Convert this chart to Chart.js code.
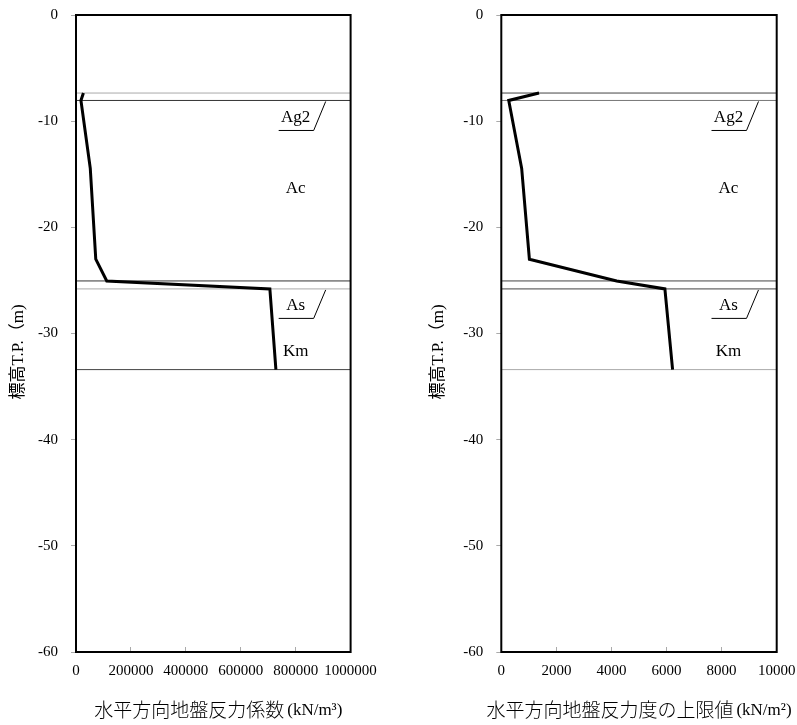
<!DOCTYPE html>
<html>
<head>
<meta charset="utf-8">
<script src="https://cdn.jsdelivr.net/npm/chart.js@4/dist/chart.umd.min.js"></script>
<style>
  html, body { margin: 0; padding: 0; background: #fff; }
  #wrap { position: relative; width: 797px; height: 725px; }
  #c1 { position: absolute; left: 0; top: 0; }
  #c2 { position: absolute; left: 420px; top: 0; }
</style>
</head>
<body>
<div id="wrap">
  <canvas id="c1" width="398" height="725"></canvas>
  <canvas id="c2" width="377" height="725"></canvas>
</div>
<script>
// ---- data ----
const depths = [-7.35, -8.05, -14.45, -23.0, -25.05, -25.8, -33.4];          // 標高 T.P. (m)
const kValues = [27000, 18000, 52000, 72000, 112000, 706000, 728000];        // 水平方向地盤反力係数 (kN/m3)
const pValues = [1370, 270, 740, 1020, 4190, 5940, 6220];                    // 水平方向地盤反力度の上限値 (kN/m2)
const layerBounds = [-7.35, -8.05, -25.05, -25.8, -33.4];                    // 地層境界
const layerNames = ["Ag2", "Ac", "As", "Km"];
const layerLabelDepths = [-9.7, -16.3, -27.4, -31.7];
const layerLeaderTop = [-8.05, null, -25.8, null];
const yTicks = [0, -10, -20, -30, -40, -50, -60];
const xTicksLeft = [0, 200000, 400000, 600000, 800000, 1000000];
const xTicksRight = [0, 2000, 4000, 6000, 8000, 10000];
const yTitle = "標高T.P.（m)";
const xTitleLeft = ["水平方向地盤反力係数", "(kN/m³)"];
const xTitleRight = ["水平方向地盤反力度の上限値", "(kN/m²)"];

const SERIF = '"Liberation Serif", "Times New Roman", "Noto Sans CJK JP", serif';
const CJK = '"Noto Sans CJK JP", "Noto Sans CJK SC", sans-serif';

function makeChart(canvasId, values, xTicks, xTitle, labelX, boundColors, padRight, yAxisWidth, xTitleShift) {
  const xmin = xTicks[0], xmax = xTicks[xTicks.length - 1];
  const datasets = [];
  datasets.push({
    data: depths.map((d, i) => ({ x: values[i], y: d })),
    showLine: true, borderColor: '#000', borderWidth: 3, pointRadius: 0,
    borderJoinStyle: 'miter', order: 0
  });
  layerBounds.forEach((d, i) => {
    datasets.push({
      data: [{ x: xmin, y: d }, { x: xmax, y: d }],
      showLine: true, borderColor: boundColors[i], borderWidth: 1, pointRadius: 0, order: 1
    });
  });

  const framePlugin = {
    id: 'frame',
    afterDatasetsDraw(chart) {
      const { ctx, chartArea: a, scales } = chart;
      ctx.save();
      // layer labels
      ctx.fillStyle = '#000';
      ctx.font = '17px ' + SERIF;
      ctx.textAlign = 'center';
      ctx.textBaseline = 'middle';
      layerNames.forEach((n, i) => {
        const px = scales.x.getPixelForValue(labelX);
        const py = scales.y.getPixelForValue(layerLabelDepths[i]);
        ctx.fillText(n, px, py);
        if (layerLeaderTop[i] !== null) {
          const ty = scales.y.getPixelForValue(layerLeaderTop[i]);
          ctx.strokeStyle = '#000';
          ctx.lineWidth = 1;
          ctx.beginPath();
          ctx.moveTo(px - 17, py + 12.5);
          ctx.lineTo(px + 18, py + 12.5);
          ctx.lineTo(px + 30, ty + 1);
          ctx.stroke();
        }
      });
      // frame
      ctx.strokeStyle = '#000';
      ctx.lineWidth = 2;
      ctx.strokeRect(a.left, a.top, a.right - a.left, a.bottom - a.top);

      // x-axis title (CJK part + unit part)
      const cjkFont = '300 19px ' + CJK;
      const unitFont = '17px "Liberation Serif", serif';
      const gap = 3;
      ctx.textBaseline = 'middle';
      ctx.textAlign = 'left';
      ctx.font = cjkFont;
      const w1 = ctx.measureText(xTitle[0]).width;
      ctx.font = unitFont;
      const unitW = ctx.measureText(xTitle[1]).width;
      const total = w1 + gap + unitW;
      const cx = (a.left + a.right) / 2 + xTitleShift;
      const sx = cx - total / 2;
      const ty = 710;
      ctx.font = cjkFont;
      ctx.fillText(xTitle[0], sx, ty);
      ctx.font = unitFont;
      ctx.fillText(xTitle[1], sx + w1 + gap, ty + 1);

      // y-axis title
      ctx.save();
      ctx.translate(19, 352);
      ctx.rotate(-Math.PI / 2);
      ctx.textAlign = 'center';
      ctx.textBaseline = 'middle';
      ctx.font = '17px "Liberation Serif", "Noto Sans CJK JP", serif';
      ctx.fillText(yTitle, 0, 0);
      ctx.restore();

      ctx.restore();
    }
  };

  return new Chart(document.getElementById(canvasId), {
    type: 'scatter',
    data: { datasets },
    plugins: [framePlugin],
    options: {
      responsive: false,
      animation: false,
      devicePixelRatio: 1,
      layout: { padding: { left: 0, top: 15, right: padRight, bottom: 0 } },
      plugins: { legend: { display: false }, tooltip: { enabled: false } },
      scales: {
        x: {
          type: 'linear', position: 'bottom', min: xmin, max: xmax,
          afterBuildTicks: (s) => { s.ticks = xTicks.map(v => ({ value: v })); },
          afterFit: (s) => { s.height = 73; s.paddingLeft = 0; s.paddingRight = 0; },
          ticks: {
            callback: (v) => String(v), color: '#000', padding: 15, maxRotation: 0, autoSkip: false,
            font: { family: SERIF, size: 15 }
          },
          grid: { drawOnChartArea: false, drawTicks: true, tickLength: -5, color: '#aaa', tickColor: '#aaa' },
          border: { display: false },
          title: { display: false }
        },
        y: {
          type: 'linear', position: 'left', min: -60, max: 0,
          afterBuildTicks: (s) => { s.ticks = yTicks.map(v => ({ value: v })); },
          afterFit: (s) => { s.width = yAxisWidth; s.paddingTop = 0; s.paddingBottom = 0; },
          ticks: {
            color: '#000', padding: 13, autoSkip: false,
            font: { family: SERIF, size: 15 }
          },
          grid: { drawOnChartArea: false, drawTicks: true, tickLength: 5, color: '#aaa', tickColor: '#aaa' },
          border: { display: false },
          title: { display: false }
        }
      }
    }
  });
}

makeChart('c1', kValues, xTicksLeft, xTitleLeft, 800000,
  ['#aaa', '#333', '#333', '#aaa', '#444'], 47.4, 76, 5);
makeChart('c2', pValues, xTicksRight, xTitleRight, 8250,
  ['#444', '#777', '#444', '#444', '#aaa'], 20.3, 81.3, 0);
</script>
</body>
</html>
